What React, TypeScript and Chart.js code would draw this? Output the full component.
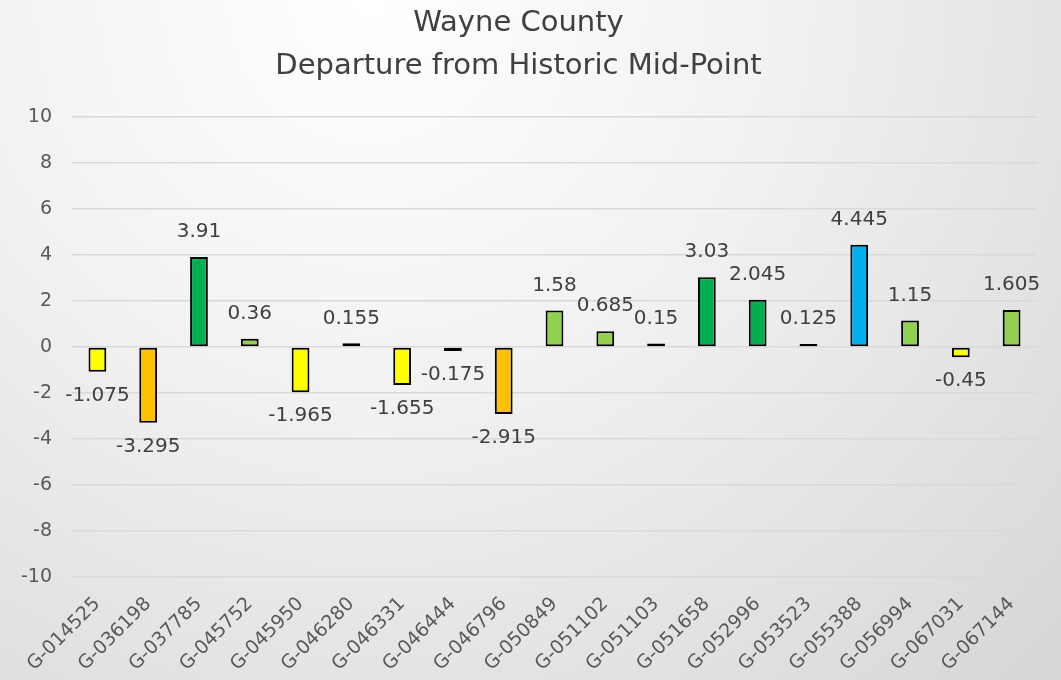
import React, { useEffect, useRef } from "react";
import { Chart, registerables } from "chart.js";

Chart.register(...registerables);

const categories = [
  "G-014525", "G-036198", "G-037785", "G-045752", "G-045950", "G-046280",
  "G-046331", "G-046444", "G-046796", "G-050849", "G-051102", "G-051103",
  "G-051658", "G-052996", "G-053523", "G-055388", "G-056994", "G-067031", "G-067144",
];
const values = [
  -1.075, -3.295, 3.91, 0.36, -1.965, 0.155, -1.655, -0.175, -2.915, 1.58,
  0.685, 0.15, 3.03, 2.045, 0.125, 4.445, 1.15, -0.45, 1.605,
];
const barColors = [
  "#FFFF00", "#FFC000", "#00B050", "#92D050", "#FFFF00", "#F2F2F2",
  "#FFFF00", "#F2F2F2", "#FFC000", "#92D050", "#92D050", "#D9D9D9",
  "#00B050", "#00B050", "#D9D9D9", "#00B0F0", "#92D050", "#FFFF00", "#92D050",
];
const titleLines = ["Wayne County", "Departure from Historic Mid-Point"];

const FONT = "'DejaVu Sans', sans-serif";

const valueLabels = {
  id: "valueLabels",
  afterDatasetsDraw(chart: any) {
    const ctx = chart.ctx;
    const meta = chart.getDatasetMeta(0);
    ctx.save();
    ctx.font = `20px ${FONT}`;
    ctx.fillStyle = "#404040";
    ctx.textAlign = "center";
    ctx.textBaseline = "middle";
    meta.data.forEach((bar: any, i: number) => {
      const v = values[i];
      const y = v >= 0 ? bar.y - 25 : bar.y + 24;
      ctx.fillText(String(v), bar.x, y);
    });
    ctx.restore();
  },
};

export default function App() {
  const ref = useRef<HTMLCanvasElement>(null);
  useEffect(() => {
    if (!ref.current) return;
    const chart = new Chart(ref.current, {
      type: "bar",
      data: {
        labels: categories,
        datasets: [
          {
            data: values,
            backgroundColor: barColors,
            borderColor: "#000000",
            borderWidth: 2,
            borderSkipped: false,
            barPercentage: 0.35,
            categoryPercentage: 1,
          },
        ],
      },
      options: {
        responsive: false,
        animation: false,
        layout: { padding: { left: 0, right: 24, top: 2, bottom: 0 } },
        plugins: {
          legend: { display: false },
          tooltip: { enabled: false },
          title: {
            display: true,
            text: titleLines,
            color: "#404040",
            font: { family: FONT, size: 29, weight: "normal", lineHeight: 1.48 },
            padding: { top: 0, bottom: 29 },
          },
        },
        scales: {
          x: {
            grid: { display: false, drawTicks: false },
            border: { display: false },
            ticks: {
              color: "#595959",
              font: { family: FONT, size: 19 },
              minRotation: 45,
              maxRotation: 45,
              autoSkip: false,
              padding: 16,
            },
            afterFit: (s: any) => { s.height = 103; },
          },
          y: {
            min: -10,
            max: 10,
            grid: { color: "#D9D9D9", lineWidth: 1.5, drawTicks: false },
            border: { display: false },
            ticks: {
              stepSize: 2,
              color: "#595959",
              font: { family: FONT, size: 19 },
              padding: 20,
            },
            afterFit: (s: any) => { s.width = 72; },
          },
        },
      },
      plugins: [valueLabels],
    });
    return () => chart.destroy();
  }, []);
  return (
    <div
      style={{
        position: "fixed",
        left: 0,
        top: 0,
        width: 1061,
        height: 680,
        background: "radial-gradient(ellipse at 35% 0%, #FFFFFF 0%, #F2F2F2 40%, #D6D6D6 100%)",
      }}
    >
      <canvas ref={ref} width={1061} height={680} style={{ display: "block" }} />
    </div>
  );
}
